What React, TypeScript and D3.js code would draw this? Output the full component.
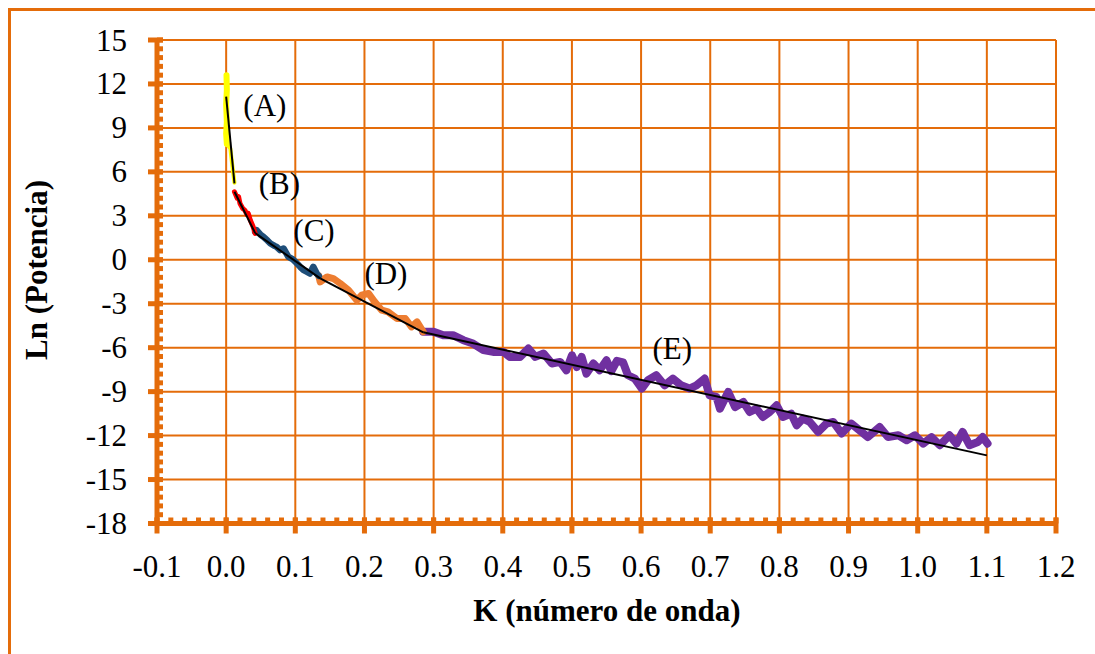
import React from "react";
import * as d3 from "d3";

// Axis ticks
const xTicks = [-0.1, 0.0, 0.1, 0.2, 0.3, 0.4, 0.5, 0.6, 0.7, 0.8, 0.9, 1.0, 1.1, 1.2];
const yTicks = [15, 12, 9, 6, 3, 0, -3, -6, -9, -12, -15, -18];

// Spectral segments: [K, Ln(Potencia)]
const seriesACore: [number, number][] = [
  [0.0005, 12.6], [0.001, 11.6], [0.0, 10.6], [0.001, 9.4], [0.0, 8.6], [0.001, 7.9],
];
const seriesATail: [number, number][] = [
  [0.001, 7.9], [0.006, 7.6], [0.009, 6.4], [0.012, 5.25],
];
const seriesB: [number, number][] = [
  [0.012, 4.64], [0.016, 4.2], [0.018, 4.3], [0.020, 3.84], [0.024, 3.5], [0.027, 3.39],
  [0.030, 3.1], [0.032, 3.16], [0.035, 2.7], [0.039, 2.25], [0.042, 1.8],
];
const seriesC: [number, number][] = [
  [0.042, 1.9], [0.044, 2.02], [0.050, 1.7], [0.054, 1.56], [0.060, 1.3], [0.064, 1.11],
  [0.070, 0.95], [0.073, 0.88], [0.078, 0.66], [0.083, 0.77], [0.090, 0.2], [0.096, 0.05],
  [0.100, -0.14], [0.107, -0.48], [0.112, -0.71], [0.117, -0.83], [0.121, -0.94],
  [0.126, -0.48], [0.131, -0.94], [0.134, -1.1],
];
const seriesD: [number, number][] = [
  [0.134, -1.1], [0.136, -1.51], [0.146, -1.17], [0.155, -1.28], [0.165, -1.62],
  [0.177, -2.08], [0.189, -2.76], [0.196, -2.42], [0.206, -2.3], [0.215, -2.88],
  [0.225, -3.44], [0.234, -3.56], [0.247, -4.01], [0.259, -4.01], [0.268, -4.58],
  [0.276, -4.24], [0.285, -4.92],
];
const seriesE: [number, number][] = [
  [0.285, -4.92], [0.300, -4.92], [0.314, -5.15], [0.328, -5.15], [0.343, -5.49],
  [0.357, -5.72], [0.372, -6.17], [0.386, -6.29], [0.401, -6.29], [0.410, -6.63],
  [0.425, -6.63], [0.437, -6.06], [0.447, -6.63], [0.459, -6.4], [0.471, -7.08],
  [0.483, -6.97], [0.492, -7.54], [0.500, -6.52], [0.507, -7.32], [0.514, -6.63],
  [0.521, -7.77], [0.531, -7.08], [0.540, -7.54], [0.550, -6.86], [0.557, -7.6],
  [0.565, -6.9], [0.574, -7.0], [0.581, -7.88], [0.591, -8.11], [0.601, -8.79],
  [0.610, -8.22], [0.622, -7.88], [0.634, -8.57], [0.646, -8.11], [0.658, -8.57],
  [0.670, -8.79], [0.680, -8.57], [0.692, -8.11], [0.699, -9.25], [0.709, -9.36],
  [0.714, -10.16], [0.726, -9.02], [0.736, -10.05], [0.748, -9.71], [0.757, -10.39],
  [0.767, -10.16], [0.776, -10.73], [0.786, -10.39], [0.796, -9.93], [0.805, -10.73],
  [0.817, -10.5], [0.825, -11.3], [0.834, -10.84], [0.844, -11.07], [0.856, -11.75],
  [0.868, -11.18], [0.878, -11.07], [0.890, -11.86], [0.904, -11.18], [0.916, -11.64],
  [0.928, -12.1], [0.945, -11.41], [0.957, -12.1], [0.972, -11.98], [0.984, -12.32],
  [0.996, -11.98], [1.008, -12.55], [1.020, -12.1], [1.032, -12.66], [1.046, -11.98],
  [1.056, -12.55], [1.065, -11.75], [1.075, -12.66], [1.087, -12.44], [1.094, -12.1],
  [1.101, -12.55],
];

// Piecewise linear fits for each segment
const fitA: [number, number][] = [[0.0, 11.13], [0.012, 5.21]];
const fitB: [number, number][] = [[0.012, 4.64], [0.042, 1.82]];
const fitC: [number, number][] = [[0.042, 1.82], [0.136, -1.27]];
const fitD: [number, number][] = [[0.136, -1.27], [0.285, -4.95]];
const fitE: [number, number][] = [[0.285, -4.95], [1.1, -13.35]];

const segmentLabels = ["(A)", "(B)", "(C)", "(D)", "(E)"];
const labelK = [0.056, 0.077, 0.127, 0.231, 0.645];
const labelV = [10.56, 5.23, 2.02, -0.92, -6.04];

const ORANGE = "#E46C0A";
const FONT = '"Liberation Serif", "Times New Roman", Times, "DejaVu Serif", serif';
const FS = 31;

export default function App() {
  const W = 1095;
  const H = 654;
  const x = d3.scaleLinear().domain([-0.1, 1.2]).range([157, 1056]);
  const y = d3.scaleLinear().domain([-18, 15]).range([523.5, 40]);
  const line = d3
    .line<[number, number]>()
    .x((d) => x(d[0]))
    .y((d) => y(d[1]));

  const xMinor = d3.range(-0.1, 1.2001, 0.02);
  const yMinor = d3.range(-18, 15.001, 0.6);

  const series = [
    { data: seriesE, color: "#7030A0", w: 8 },
    { data: seriesD, color: "#ED7D31", w: 7 },
    { data: seriesC, color: "#1F4E79", w: 6.5 },
    { data: seriesB, color: "#FF0000", w: 5 },
    { data: seriesATail, color: "#FFFF00", w: 4 },
    { data: seriesACore, color: "#FFFF00", w: 6 },
  ];
  const fits = [fitA, fitB, fitC, fitD, fitE];

  const x0 = x(-0.1);
  const x1 = x(1.2);
  const yTop = y(15);
  const yBot = y(-18);
  const txt = { fontFamily: FONT, fill: "#000" } as React.CSSProperties;

  return (
    <div style={{ position: "absolute", left: 0, top: 0 }}>
      <svg width={W} height={H} style={{ display: "block", background: "#fff" }}>
        <rect x={9.5} y={9.5} width={1100} height={660} fill="#fff" stroke={ORANGE} strokeWidth={3} />

        {/* grid */}
        {xTicks.slice(1).map((t) => (
          <line key={"gx" + t} x1={x(t)} x2={x(t)} y1={yTop} y2={yBot} stroke={ORANGE} strokeWidth={2} />
        ))}
        {yTicks.slice(0, -1).map((t) => (
          <line key={"gy" + t} x1={x0} x2={x1} y1={y(t)} y2={y(t)} stroke={ORANGE} strokeWidth={2} />
        ))}

        {/* data */}
        {series.map((s, i) => (
          <path
            key={"s" + i}
            d={line(s.data) || ""}
            fill="none"
            stroke={s.color}
            strokeWidth={s.w}
            strokeLinejoin="round"
            strokeLinecap="round"
          />
        ))}
        {fits.map((f, i) => (
          <path key={"f" + i} d={line(f) || ""} fill="none" stroke="#000" strokeWidth={2} />
        ))}

        {/* axes */}
        <line x1={x0} x2={x0} y1={yTop - 2} y2={yBot + 2} stroke={ORANGE} strokeWidth={5} />
        <line x1={x0 - 2} x2={x1 + 2} y1={yBot} y2={yBot} stroke={ORANGE} strokeWidth={5} />
        {yMinor.map((t, i) => (
          <line key={"ym" + i} x1={x0} x2={x0 + 6} y1={y(t)} y2={y(t)} stroke={ORANGE} strokeWidth={5} />
        ))}
        {yTicks.map((t) => (
          <line key={"yM" + t} x1={x0 - 9} x2={x0 + 6} y1={y(t)} y2={y(t)} stroke={ORANGE} strokeWidth={5} />
        ))}
        {xMinor.map((t, i) => (
          <line key={"xm" + i} x1={x(t)} x2={x(t)} y1={yBot - 6} y2={yBot} stroke={ORANGE} strokeWidth={5} />
        ))}
        {xTicks.map((t) => (
          <line key={"xM" + t} x1={x(t)} x2={x(t)} y1={yBot - 6} y2={yBot + 10} stroke={ORANGE} strokeWidth={5} />
        ))}

        {/* tick labels */}
        {yTicks.map((t) => (
          <text key={"yl" + t} x={127} y={y(t)} textAnchor="end" dominantBaseline="central" fontSize={FS} style={txt}>
            {t}
          </text>
        ))}
        {xTicks.map((t) => (
          <text key={"xl" + t} x={x(t)} y={566} textAnchor="middle" dominantBaseline="central" fontSize={FS} style={txt}>
            {t.toFixed(1)}
          </text>
        ))}

        {/* segment labels */}
        {segmentLabels.map((s, i) => (
          <text
            key={"lab" + i}
            x={x(labelK[i])}
            y={y(labelV[i])}
            textAnchor="middle"
            dominantBaseline="central"
            fontSize={FS}
            style={txt}
          >
            {s}
          </text>
        ))}

        {/* axis titles */}
        <text x={607} y={610} textAnchor="middle" dominantBaseline="central" fontSize={FS} fontWeight="bold" style={txt}>
          K (número de onda)
        </text>
        <text
          transform="translate(36,270) rotate(-90)"
          textAnchor="middle"
          dominantBaseline="central"
          fontSize={FS}
          fontWeight="bold"
          style={txt}
        >
          Ln (Potencia)
        </text>
      </svg>
    </div>
  );
}
